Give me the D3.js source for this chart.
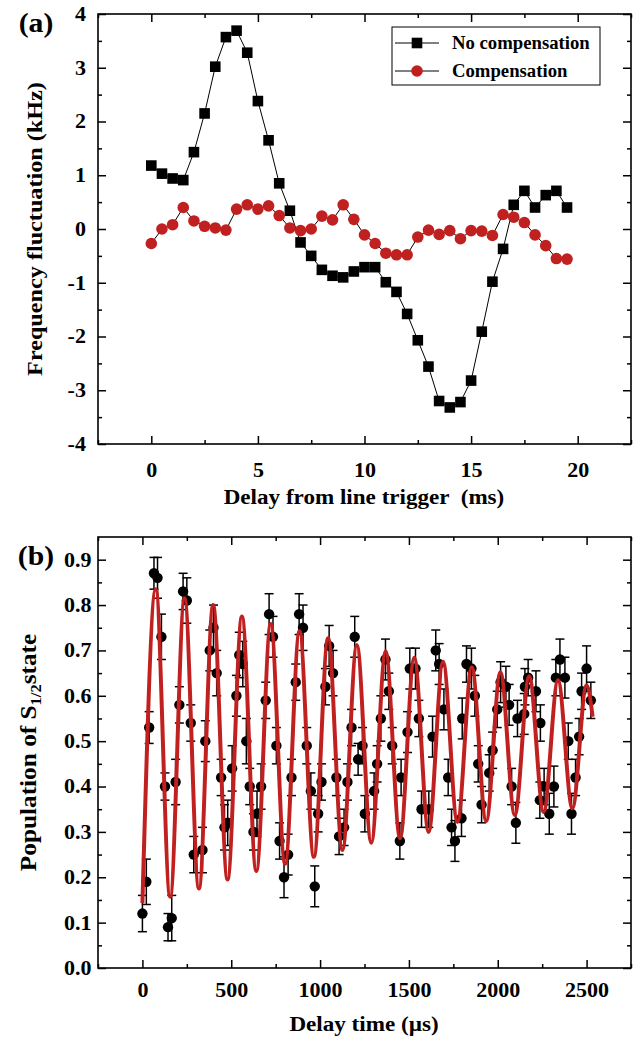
<!DOCTYPE html>
<html>
<head>
<meta charset="utf-8">
<script src="https://cdn.jsdelivr.net/npm/d3@7"></script>
<style>
  body { margin: 0; background: #fff; }
  svg text { font-family: "Liberation Serif", "Times New Roman", serif; font-weight: bold; fill: #000; }
</style>
</head>
<body>
<svg id="chart" width="636" height="1039"></svg>
<script>
// ---- panel (a) data ----
const delayA = [0, 0.5, 1, 1.5, 2, 2.5, 3, 3.5, 4, 4.5, 5, 5.5, 6, 6.5, 7, 7.5, 8, 8.5, 9, 9.5,
    10, 10.5, 11, 11.5, 12, 12.5, 13, 13.5, 14, 14.5, 15, 15.5, 16, 16.5, 17, 17.5, 18, 18.5, 19, 19.5];
const noCompensation = [1.18, 1.03, 0.94, 0.91, 1.43, 2.15, 3.02, 3.57, 3.69, 3.28, 2.38, 1.65, 0.85, 0.34,
    -0.25, -0.50, -0.76, -0.87, -0.90, -0.79, -0.71, -0.71, -0.99, -1.17, -1.58, -2.07, -2.56, -3.20, -3.32,
    -3.22, -2.82, -1.91, -0.98, -0.37, 0.45, 0.71, 0.40, 0.63, 0.71, 0.40];
const compensation = [-0.27, 0.00, 0.08, 0.40, 0.15, 0.05, 0.02, -0.02, 0.37, 0.45, 0.37, 0.43, 0.25, 0.02,
    -0.03, 0.00, 0.24, 0.17, 0.45, 0.18, -0.11, -0.27, -0.45, -0.48, -0.48, -0.15, -0.02, -0.10, -0.03,
    -0.18, -0.03, -0.04, -0.12, 0.27, 0.22, 0.12, -0.11, -0.31, -0.55, -0.56];
const seriesNames = ['No compensation', 'Compensation'];
const xTicksA = [0, 5, 10, 15, 20];
const xMinorA = [-2.5, 2.5, 7.5, 12.5, 17.5, 22.5];
const yTicksA = [-4, -3, -2, -1, 0, 1, 2, 3, 4];
const yMinorA = [-3.5, -2.5, -1.5, -0.5, 0.5, 1.5, 2.5, 3.5];

// ---- panel (b) data ----
const delayB = [0, 22, 38, 65, 85, 107, 127, 144, 165, 187, 208, 229, 250, 272, 289, 338, 354, 379, 400, 418,
    443, 462, 480, 505, 529, 545, 565, 585, 604, 625, 645, 668, 694, 713, 735, 754, 772, 797, 820, 839,
    863, 882, 904, 925, 948, 970, 989, 1008, 1030, 1051, 1073, 1092, 1107, 1135, 1154, 1177, 1195, 1214,
    1239, 1252, 1304, 1321, 1342, 1368, 1387, 1406, 1449, 1456, 1492, 1505, 1537, 1556, 1571, 1612, 1633,
    1651, 1670, 1697, 1721, 1740, 1759, 1796, 1800, 1824, 1852, 1871, 1890, 1909, 1952, 1971, 1997, 2016,
    2046, 2064, 2078, 2102, 2111, 2149, 2153, 2171, 2215, 2237, 2240, 2261, 2290, 2316, 2327, 2350, 2378,
    2397, 2415, 2438, 2458, 2472, 2500, 2524];
const population = [0.12, 0.19, 0.53, 0.87, 0.86, 0.73, 0.40, 0.09, 0.11, 0.41, 0.58, 0.83, 0.81, 0.54, 0.25,
    0.26, 0.50, 0.70, 0.75, 0.65, 0.42, 0.31, 0.32, 0.44, 0.60, 0.69, 0.67, 0.50, 0.40, 0.30, 0.34, 0.40,
    0.59, 0.78, 0.73, 0.49, 0.28, 0.20, 0.25, 0.42, 0.63, 0.78, 0.75, 0.49, 0.39, 0.18, 0.34, 0.41, 0.62,
    0.71, 0.65, 0.42, 0.29, 0.31, 0.41, 0.53, 0.73, 0.46, 0.49, 0.34, 0.39, 0.45, 0.55, 0.68, 0.61, 0.49,
    0.28, 0.42, 0.52, 0.66, 0.66, 0.55, 0.35, 0.35, 0.51, 0.70, 0.67, 0.57, 0.42, 0.31, 0.28, 0.33, 0.55,
    0.67, 0.66, 0.60, 0.45, 0.36, 0.43, 0.48, 0.57, 0.63, 0.62, 0.58, 0.40, 0.32, 0.55, 0.56, 0.62, 0.64,
    0.61, 0.37, 0.54, 0.40, 0.34, 0.40, 0.64, 0.68, 0.64, 0.50, 0.34, 0.42, 0.51, 0.61, 0.66, 0.59];
const popError = [0.04, 0.05, 0.035, 0.035, 0.045, 0.05, 0.03, 0.03, 0.05, 0.05, 0.04, 0.04, 0.05, 0.04, 0.04,
    0.05, 0.045, 0.045, 0.05, 0.05, 0.04, 0.05, 0.05, 0.05, 0.045, 0.05, 0.05, 0.05, 0.04, 0.04, 0.05, 0.05,
    0.04, 0.045, 0.045, 0.04, 0.04, 0.045, 0.045, 0.04, 0.04, 0.045, 0.05, 0.04, 0.04, 0.045, 0.04, 0.04, 0.04,
    0.045, 0.05, 0.04, 0.04, 0.04, 0.04, 0.04, 0.045, 0.035, 0.04, 0.04, 0.04, 0.04, 0.05, 0.045, 0.04, 0.04,
    0.04, 0.04, 0.045, 0.045, 0.045, 0.04, 0.04, 0.04, 0.045, 0.045, 0.045, 0.045, 0.04, 0.04, 0.045, 0.04,
    0.045, 0.04, 0.045, 0.045, 0.04, 0.04, 0.04, 0.04, 0.04, 0.045, 0.045, 0.045, 0.04, 0.045, 0.04, 0.045,
    0.04, 0.04, 0.045, 0.04, 0.04, 0.04, 0.045, 0.045, 0.04, 0.045, 0.045, 0.04, 0.045, 0.04, 0.04, 0.04,
    0.05, 0.04];
// fitted curve: start, alternating peaks / troughs, end
const fitTime = [0, 75, 156, 237, 318, 398, 479, 560, 641, 722, 803, 884, 965, 1045, 1126, 1207, 1288,
    1369, 1450, 1530, 1611, 1692, 1773, 1854, 1935, 2015, 2096, 2177, 2258, 2339, 2420, 2500, 2534];
const fitValue = [0.143, 0.835, 0.157, 0.815, 0.175, 0.800, 0.195, 0.775, 0.214, 0.758, 0.230, 0.742, 0.245,
    0.727, 0.260, 0.712, 0.276, 0.698, 0.286, 0.684, 0.300, 0.675, 0.322, 0.663, 0.324, 0.652, 0.337, 0.643,
    0.344, 0.634, 0.352, 0.623, 0.554];
const xTicksB = [0, 500, 1000, 1500, 2000, 2500];
const xMinorB = [-250, 250, 750, 1250, 1750, 2250, 2750];
const yTicksB = [0, 0.1, 0.2, 0.3, 0.4, 0.5, 0.6, 0.7, 0.8, 0.9];
const yMinorB = [0.05, 0.15, 0.25, 0.35, 0.45, 0.55, 0.65, 0.75, 0.85];

const red = '#c0201f';
const SX = 1.1; // text in the picture is a little wider than Times

let svg = d3.select('#chart');

// generic frame with inward ticks on all four sides
function frame(x, y, xMajor, xMinor, yMajor, yMinor, yFmt, xPad, yPad) {
    let xr = x.range();
    let yr = y.range();
    let g = svg.append('g').attr('class', 'frame');

    let parts = [
        [d3.axisBottom(x).tickValues(xMajor).tickFormat(String).tickSize(-8).tickPadding(xPad), 0, yr[0]],
        [d3.axisBottom(x).tickValues(xMinor).tickFormat('').tickSize(-4), 0, yr[0]],
        [d3.axisTop(x).tickValues(xMajor).tickFormat('').tickSize(-8), 0, yr[1]],
        [d3.axisTop(x).tickValues(xMinor).tickFormat('').tickSize(-4), 0, yr[1]],
        [d3.axisLeft(y).tickValues(yMajor).tickFormat(yFmt).tickSize(-8).tickPadding(yPad), xr[0], 0],
        [d3.axisLeft(y).tickValues(yMinor).tickFormat('').tickSize(-4), xr[0], 0],
        [d3.axisRight(y).tickValues(yMajor).tickFormat('').tickSize(-8), xr[1], 0],
        [d3.axisRight(y).tickValues(yMinor).tickFormat('').tickSize(-4), xr[1], 0]
    ];
    parts.forEach(function(p) {
        let a = g.append('g')
            .attr('transform', 'translate(' + p[1] + ',' + p[2] + ')')
            .call(p[0].tickSizeOuter(0));
        a.select('.domain').remove();
        a.selectAll('line').attr('stroke', '#000').attr('stroke-width', 1.5);
        a.selectAll('text')
            .attr('font-size', 20)
            .attr('font-family', null)
            .attr('fill', '#000')
            .attr('transform', 'scale(' + SX + ',1)');
    });

    g.append('rect')
        .attr('x', xr[0]).attr('y', yr[1])
        .attr('width', xr[1] - xr[0]).attr('height', yr[0] - yr[1])
        .attr('fill', 'none').attr('stroke', '#000').attr('stroke-width', 1.6);
}

function label(text, x, y, size, rotate) {
    return svg.append('text')
        .attr('transform', 'translate(' + x + ',' + y + ')' + (rotate ? ' rotate(-90)' : '') + ' scale(' + SX + ',1)')
        .attr('text-anchor', 'middle')
        .attr('font-size', size)
        .style('white-space', 'pre')
        .text(text);
}

// ================= panel (a) =================
let xA = d3.scaleLinear().domain([-2.5, 22.5]).range([98, 631]);
let yA = d3.scaleLinear().domain([-4, 4]).range([444, 14]);

frame(xA, yA, xTicksA, xMinorA, yTicksA, yMinorA, String, 19, 11);

let lineA = d3.line()
    .x(function(d) { return xA(d[0]); })
    .y(function(d) { return yA(d[1]); });

let dataNo = delayA.map(function(t, i) { return [t, noCompensation[i]]; });
let dataComp = delayA.map(function(t, i) { return [t, compensation[i]]; });

svg.append('path').datum(dataNo)
    .attr('d', lineA).attr('fill', 'none').attr('stroke', '#000').attr('stroke-width', 1);
svg.append('path').datum(dataComp)
    .attr('d', lineA).attr('fill', 'none').attr('stroke', '#000').attr('stroke-width', 1);

svg.append('g').selectAll('rect').data(dataNo).enter().append('rect')
    .attr('x', function(d) { return xA(d[0]) - 5.3; })
    .attr('y', function(d) { return yA(d[1]) - 5.3; })
    .attr('width', 10.6).attr('height', 10.6)
    .attr('fill', '#000');

svg.append('g').selectAll('circle').data(dataComp).enter().append('circle')
    .attr('cx', function(d) { return xA(d[0]); })
    .attr('cy', function(d) { return yA(d[1]); })
    .attr('r', 5.8)
    .attr('fill', red);

// legend
let legend = svg.append('g').attr('transform', 'translate(392,27)');
legend.append('rect')
    .attr('width', 208).attr('height', 58)
    .attr('fill', '#fff').attr('stroke', '#000').attr('stroke-width', 1);
seriesNames.forEach(function(name, i) {
    let cy = 16 + i * 28;
    legend.append('line')
        .attr('x1', 3).attr('x2', 47).attr('y1', cy).attr('y2', cy)
        .attr('stroke', '#000').attr('stroke-width', 1);
    if (i === 0) {
        legend.append('rect').attr('x', 19.7).attr('y', cy - 5.3).attr('width', 10.6).attr('height', 10.6).attr('fill', '#000');
    } else {
        legend.append('circle').attr('cx', 25).attr('cy', cy).attr('r', 5.8).attr('fill', red);
    }
    legend.append('text')
        .attr('transform', 'translate(60,' + (cy + 6) + ') scale(1.04,1)')
        .attr('font-size', 18)
        .text(name);
});

label('(a)', 36, 32, 27, false);
label('Frequency fluctuation (kHz)', 42, yA(0), 22, true);
label('Delay from line trigger  (ms)', 364, 504, 21, false);

// ================= panel (b) =================
let xB = d3.scaleLinear().domain([-250, 2750]).range([98, 631]);
let yB = d3.scaleLinear().domain([0, 0.95]).range([968, 537]);

frame(xB, yB, xTicksB, xMinorB, yTicksB, yMinorB, d3.format('.1f'), 15, 6);

let points = delayB.map(function(t, i) { return { t: t, v: population[i], e: popError[i] }; });

let bars = svg.append('g').attr('stroke', '#000').attr('stroke-width', 1.5);
points.forEach(function(p) {
    let cx = xB(p.t);
    let top = yB(p.v + p.e);
    let bot = yB(p.v - p.e);
    bars.append('line').attr('x1', cx).attr('x2', cx).attr('y1', top).attr('y2', bot);
    bars.append('line').attr('x1', cx - 4.5).attr('x2', cx + 4.5).attr('y1', top).attr('y2', top);
    bars.append('line').attr('x1', cx - 4.5).attr('x2', cx + 4.5).attr('y1', bot).attr('y2', bot);
});

svg.append('g').selectAll('circle').data(points).enter().append('circle')
    .attr('cx', function(d) { return xB(d.t); })
    .attr('cy', function(d) { return yB(d.v); })
    .attr('r', 5.2)
    .attr('fill', '#000');

let fitLine = d3.line()
    .curve(d3.curveMonotoneX)
    .x(function(d, i) { return xB(fitTime[i]); })
    .y(function(d) { return yB(d); });

svg.append('path').datum(fitValue)
    .attr('d', fitLine)
    .attr('fill', 'none')
    .attr('stroke', red)
    .attr('stroke-width', 4);

label('(b)', 36, 565, 27, false);
let yTitle = svg.append('text')
    .attr('transform', 'translate(36,' + yB(0.475) + ') rotate(-90) scale(' + SX + ',1)')
    .attr('text-anchor', 'middle')
    .attr('font-size', 23);
yTitle.append('tspan').text('Population of S');
yTitle.append('tspan').attr('font-size', 15).attr('dy', 5).text('1/2');
yTitle.append('tspan').attr('dy', -5).text('state');
label('Delay time (\u00b5s)', 364, 1031, 21, false);
</script>
</body>
</html>
